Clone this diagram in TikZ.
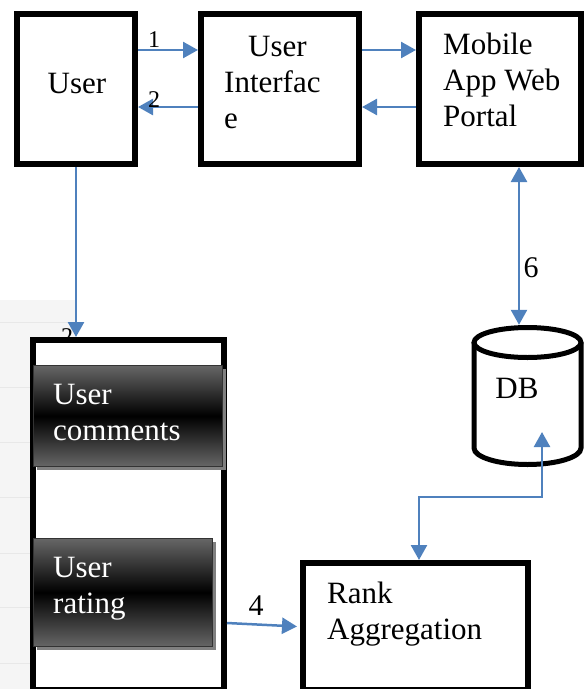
\documentclass[tikz,border=0pt]{standalone}
\usepackage{fontspec}
\setmainfont{Liberation Serif}
\usetikzlibrary{arrows.meta,shadows}
\definecolor{flowblue}{HTML}{4F81BD}

\begin{document}
\begin{tikzpicture}[
    x=1pt, y=-1pt,
    box/.style={draw, line width=6pt, fill=white, inner sep=0pt},
    darkbox/.style={draw=black!80, line width=1.5pt, inner sep=0pt,
        top color=black!60, bottom color=black!60, middle color=black,
        drop shadow={shadow xshift=3pt, shadow yshift=-3pt,
            fill=black!50, opacity=1}},
    txt/.style={inner sep=0pt, align=left, anchor=north west,
        font=\fontsize{31}{36}\selectfont},
    num/.style={inner sep=0pt, anchor=base, font=\fontsize{24}{28}\selectfont},
    bignum/.style={inner sep=0pt, anchor=base, font=\fontsize{30}{34}\selectfont},
    flow/.style={draw=flowblue, line width=2.5pt,
        -{Triangle[length=15pt, width=16pt]}},
    bothflow/.style={draw=flowblue, line width=2.5pt,
        {Triangle[length=15pt, width=16pt]}-{Triangle[length=15pt, width=16pt]}}
]
\useasboundingbox (0,0) rectangle (585,689);
\clip (0,0) rectangle (585,689);

% faint page background on the left
\fill[black!4] (0,300) rectangle (75,689);
\foreach \yy in {322,387,442,497,553,607,663}
    \draw[black!9, line width=1pt] (0,\yy) -- (75,\yy);

\node[num] (lblthree) at (67,344) {2};

% boxes
\node[box, minimum width=118pt, minimum height=150pt] (user)   at (76,89)    {};
\node[box, minimum width=158pt, minimum height=150pt] (ui)     at (280,89)   {};
\node[box, minimum width=162pt, minimum height=150pt] (mobile) at (500,89)   {};
\node[box, minimum width=191pt, minimum height=350pt] (cont)   at (128.5,515) {};
\node[box, minimum width=225pt, minimum height=127pt] (rank)   at (415.5,626.5) {};

% database cylinder
\node[inner sep=0pt, minimum width=112pt, minimum height=142pt] (db) at (527.5,396) {};
\draw[line width=5pt, fill=white] (474,342.5) -- (474,448)
    arc[start angle=180, end angle=0, x radius=53.5, y radius=16.5] -- (581,342.5);
\draw[line width=5pt] (527.5,342.5) ellipse [x radius=53.5, y radius=15];

\node[darkbox, minimum width=189pt, minimum height=101pt] (comments) at (128,416)   {};
\node[darkbox, minimum width=179pt, minimum height=108pt] (rating)   at (123,592.5) {};

% texts
\node[txt, anchor=base] (usertxt) at (77,93) {User};
\node[txt] (uitxt)     at (224,36)  {\hspace{24pt}User\\Interfac\\e};
\node[txt] (mobiletxt) at (443,33)  {Mobile\\App Web\\Portal};
\node[txt, text=white] (commtxt) at (53,384) {User\\comments};
\node[txt, text=white] (ratetxt) at (53,557) {User\\rating};
\node[txt] (ranktxt)   at (327,582) {Rank\\Aggregation};
\node[txt, anchor=base] (dbtxt) at (517,398) {DB};

% connectors
\draw[flow] ([yshift=39pt]user.east) -- ([yshift=39pt]ui.west);
\draw[flow] ([yshift=-18pt]ui.west) -- ([yshift=-18pt]user.east);
\draw[flow] ([yshift=39pt]ui.east) -- ([yshift=39pt]mobile.west);
\draw[flow] ([yshift=-18pt]mobile.west) -- ([yshift=-18pt]ui.east);
\draw[flow] (user.south) -- (user.south |- cont.north);
\draw[bothflow] ([xshift=19pt]mobile.south) -- ([xshift=19pt]mobile.south |- db.north);
\draw[bothflow] ([shift={(14.5pt,-36pt)}]db.center) -- ++(0,65) -| ([xshift=3.5pt]rank.north);
\draw[flow] ([yshift=-108pt]cont.east) -- ([xshift=-3pt]rank.west);

% step labels
\node[num]    (lblone) at (154,47)  {1};
\node[num]    (lbltwo) at (154,107) {2};
\node[bignum] (lblfour) at (256,615) {4};
\node[bignum] (lblsix)  at (531,277) {6};
\end{tikzpicture}
\end{document}
